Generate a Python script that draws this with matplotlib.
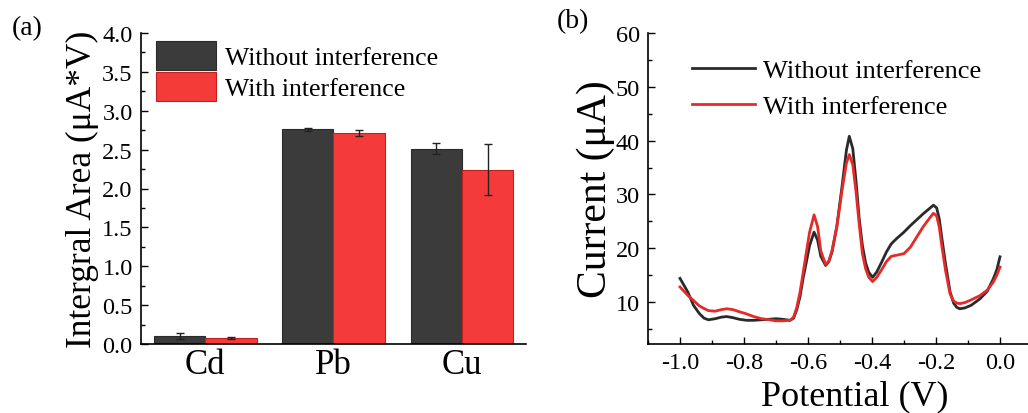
import numpy as np
import matplotlib
matplotlib.use("Agg")
import matplotlib.pyplot as plt
from matplotlib.ticker import MultipleLocator, FormatStrFormatter

plt.rcParams['font.family'] = ['Liberation Serif', 'DejaVu Serif']
plt.rcParams['axes.unicode_minus'] = False

# (a) integral areas
metals = ["Cd", "Pb", "Cu"]
area_without = [0.107, 2.76, 2.51]
err_without = [0.04, 0.02, 0.07]
area_with = [0.077, 2.71, 2.24]
err_with = [0.01, 0.04, 0.33]

# (b) stripping curves
pot_without = [-1.0, -0.975, -0.958, -0.94, -0.925, -0.911, -0.89, -0.87, -0.854, -0.835,
               -0.815, -0.792, -0.77, -0.745, -0.72, -0.70, -0.68, -0.656, -0.645, -0.635,
               -0.625, -0.615, -0.605, -0.595, -0.581, -0.57, -0.56, -0.545, -0.535, -0.525,
               -0.51, -0.493, -0.48, -0.471, -0.46, -0.45, -0.44, -0.43, -0.42, -0.41,
               -0.398, -0.385, -0.37, -0.355, -0.34, -0.323, -0.30, -0.28, -0.26, -0.24,
               -0.22, -0.208, -0.198, -0.19, -0.182, -0.17, -0.156, -0.145, -0.135, -0.125,
               -0.11, -0.09, -0.0625, -0.04, -0.021, -0.01, 0.0]
cur_without = [14.4, 11.8, 9.4, 7.9, 7.0, 6.7, 6.9, 7.2, 7.3, 7.1,
               6.8, 6.6, 6.6, 6.7, 6.8, 6.9, 6.8, 6.6, 7.0, 8.6,
               11.0, 14.5, 17.5, 20.5, 23.0, 21.5, 18.5, 16.8, 17.5, 19.3,
               24.0, 31.8, 38.2, 40.8, 38.5, 32.5, 25.5, 20.5, 17.3, 15.5,
               14.6, 15.6, 17.4, 19.3, 20.8, 21.8, 23.0, 24.2, 25.3, 26.4,
               27.4, 28.0, 27.5, 25.5, 22.0, 17.0, 11.9, 9.8, 9.0, 8.75,
               8.9, 9.4, 10.6, 12.0, 14.3, 16.0, 18.4]
pot_with = [-1.0, -0.975, -0.958, -0.94, -0.925, -0.911, -0.89, -0.87, -0.854, -0.835,
            -0.815, -0.792, -0.77, -0.745, -0.72, -0.70, -0.68, -0.656, -0.645, -0.635,
            -0.625, -0.615, -0.605, -0.595, -0.581, -0.57, -0.56, -0.545, -0.535, -0.525,
            -0.51, -0.493, -0.48, -0.471, -0.46, -0.45, -0.44, -0.43, -0.42, -0.41,
            -0.398, -0.385, -0.37, -0.355, -0.34, -0.323, -0.30, -0.28, -0.26, -0.24,
            -0.22, -0.208, -0.198, -0.19, -0.182, -0.17, -0.156, -0.145, -0.135, -0.125,
            -0.11, -0.09, -0.0625, -0.04, -0.021, -0.01, 0.0]
cur_with = [12.8, 11.2, 10.3, 9.3, 8.8, 8.4, 8.3, 8.6, 8.75, 8.6,
            8.2, 7.8, 7.3, 6.9, 6.7, 6.5, 6.5, 6.6, 7.2, 9.0,
            11.8, 15.5, 19.3, 23.0, 26.2, 24.0, 19.5, 17.0, 17.6, 19.5,
            24.0, 31.0, 35.8, 37.4, 35.5, 30.5, 24.5, 19.0, 16.2, 14.6,
            13.8, 14.6, 16.0, 17.5, 18.5, 18.7, 19.0, 20.2, 22.1, 24.0,
            25.6, 26.5, 26.0, 24.0, 20.5, 15.8, 11.5, 10.2, 9.8, 9.7,
            9.9, 10.4, 11.2, 12.2, 13.7, 15.0, 16.5]

bar_black = '#3b3b3b'
bar_red = '#f53a3a'
line_black = '#2a2a2a'
line_red = '#e52a2a'

fig = plt.figure(figsize=(10.28, 4.14), dpi=100)
ax1 = fig.add_axes([141 / 1028, 1 - 345 / 414, 385 / 1028, 311 / 414])
ax2 = fig.add_axes([648 / 1028, 1 - 345 / 414, 380 / 1028, 311 / 414])

# ---- (a) bars
x = np.arange(len(metals))
w = 0.4
ax1.bar(x - w / 2, area_without, w, color=bar_black, edgecolor='#2a2a2a', linewidth=0.8,
        yerr=err_without, capsize=3, error_kw=dict(elinewidth=1, capthick=1, ecolor='#222222'),
        label="Without interference")
ax1.bar(x + w / 2, area_with, w, color=bar_red, edgecolor='#c02020', linewidth=0.8,
        yerr=err_with, capsize=3, error_kw=dict(elinewidth=1, capthick=1, ecolor='#222222'),
        label="With interference")
ax1.set_xlim(-0.5, 2.5)
ax1.set_ylim(0, 4.0)
ax1.set_xticks(x)
ax1.set_xticklabels(metals, fontsize=25)
ax1.yaxis.set_major_locator(MultipleLocator(0.5))
ax1.yaxis.set_minor_locator(MultipleLocator(0.25))
ax1.yaxis.set_major_formatter(FormatStrFormatter('%.1f'))
ax1.tick_params(axis='y', which='major', direction='in', length=5, width=1, labelsize=17.5, pad=6)
ax1.tick_params(axis='y', which='minor', direction='in', length=3, width=1)
ax1.tick_params(axis='x', length=0, pad=3)
ax1.set_ylabel("Intergral Area (μA*V)", fontsize=25.5, labelpad=2)
for s in ['top', 'right']:
    ax1.spines[s].set_visible(False)
for s in ['left', 'bottom']:
    ax1.spines[s].set_linewidth(1.2)
ax1.legend(loc='upper left', bbox_to_anchor=(156 / 1028, 1 - 42 / 414), bbox_transform=fig.transFigure,
           frameon=False, fontsize=18.5, handlelength=2.35, handleheight=1.35, labelspacing=0.1,
           handletextpad=0.35, borderpad=0, borderaxespad=0)

# ---- (b) curves
ax2.plot(pot_without, cur_without, color=line_black, linewidth=2, label="Without interference")
ax2.plot(pot_with, cur_with, color=line_red, linewidth=2, label="With interference")
ax2.set_xlim(-1.1, 0.0875)
ax2.set_ylim(2.2, 60)
ax2.xaxis.set_major_locator(MultipleLocator(0.2))
ax2.xaxis.set_minor_locator(MultipleLocator(0.1))
ax2.xaxis.set_major_formatter(FormatStrFormatter('%.1f'))
ax2.yaxis.set_minor_locator(MultipleLocator(5))
ax2.set_yticks([10, 20, 30, 40, 50, 60])
ax2.tick_params(which='major', direction='in', length=5, width=1, labelsize=17.5, pad=6)
ax2.tick_params(which='minor', direction='in', length=3, width=1)
ax2.set_xlabel("Potential (V)", fontsize=26)
ax2.xaxis.set_label_coords(0.545, -0.115)
ax2.set_ylabel("Current (μA)", fontsize=30, labelpad=0)
for s in ['top', 'right']:
    ax2.spines[s].set_visible(False)
for s in ['left', 'bottom']:
    ax2.spines[s].set_linewidth(1.2)
ax2.legend(loc='upper left', bbox_to_anchor=(692 / 1028, 1 - 60 / 414), bbox_transform=fig.transFigure,
           frameon=False, fontsize=19, handlelength=2.4, labelspacing=0.45,
           handletextpad=0.3, borderpad=0, borderaxespad=0)

fig.text(27 / 1028, 1 - 29 / 414, "(a)", fontsize=20, ha='center', va='center')
fig.text(573 / 1028, 1 - 22 / 414, "(b)", fontsize=20, ha='center', va='center')

fig.savefig("out.png", dpi=100)
